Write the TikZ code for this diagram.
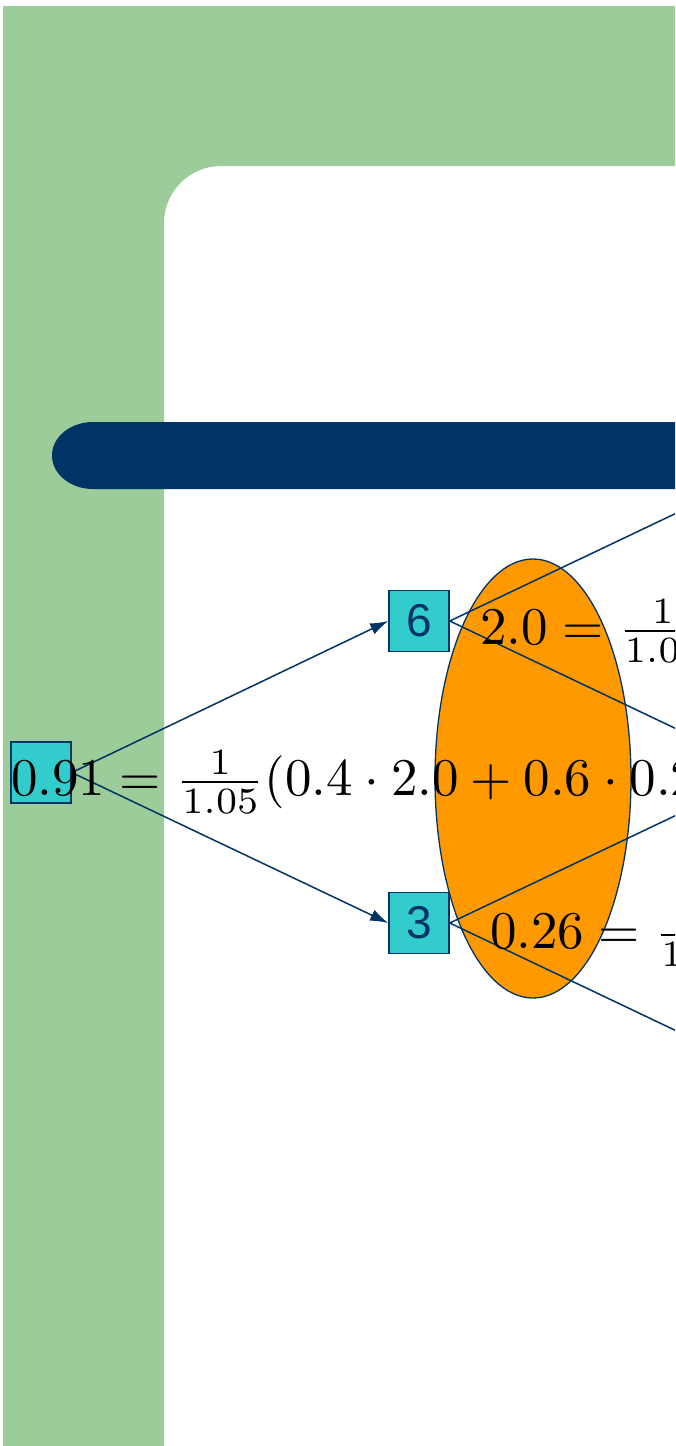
\documentclass[tikz,border=0pt]{standalone}
\usepackage{fontspec}
\newfontfamily\boxfont{Liberation Sans}
\usetikzlibrary{arrows.meta}
\definecolor{bggreen}{RGB}{155,204,154}
\definecolor{navy}{RGB}{0,51,102}
\definecolor{boxcyan}{RGB}{51,204,204}
\definecolor{ellorange}{RGB}{255,153,0}
\tikzset{
  treebox/.style={draw=navy, fill=boxcyan, line width=1.5pt, minimum width=60pt, minimum height=61pt, inner sep=0pt, text=navy, font=\boxfont\fontsize{46}{50}\selectfont},
  conn/.style={draw=navy, line width=1.5pt},
  arr/.style={conn, -{Latex[length=18pt,width=12pt]}},
  eqn/.style={anchor=base west, inner sep=0pt, scale=5.3, font=\normalsize}
}
\begin{document}
\begin{tikzpicture}[x=1pt, y=-1pt]
\useasboundingbox (0,0) rectangle (675,1446);
\clip (0,0) rectangle (675,1446);
% green frame
\fill[bggreen] (3,6) -- (675,6) -- (675,166) -- (221,166)
  arc[start angle=270, end angle=180, radius=57] -- (164,1446) -- (3,1446) -- cycle;
% dark bar
\fill[navy] (675,422) -- (93,422) arc[start angle=270, end angle=90, x radius=41, y radius=33.5] -- (675,489) -- cycle;
% orange ellipse
\draw[navy, fill=ellorange, line width=1.3pt] (533,778.5) ellipse [x radius=98, y radius=219.5];
% free ends (next level, outside the picture)
\coordinate (u2) at (767,470);
\coordinate (m2) at (767,772);
\coordinate (d2) at (767,1074);
% boxes
\node[treebox] (r) at (41,772.5) {};
\node[treebox] (n6) at (419,621) {6};
\node[treebox] (n3) at (419,923) {3};
% connectors
\draw[arr] (r.east) -- (n6.west);
\draw[arr] (r.east) -- (n3.west);
\draw[arr] (n6.east) -- (u2);
\draw[arr] (n6.east) -- (m2);
\draw[arr] (n3.east) -- (m2);
\draw[arr] (n3.east) -- (d2);
% equations
\node[eqn] (e0) at (10,795) {$0.91 = \frac{1}{1.05}(0.4\cdot 2.0 + 0.6\cdot 0.26)$};
\node[eqn] (e1) at (479,644) {$2.0 = \frac{1}{1.05}$};
\node[eqn] (e2) at (489,948) {$0.26 = \frac{1}{1.05}$};
\end{tikzpicture}
\end{document}
